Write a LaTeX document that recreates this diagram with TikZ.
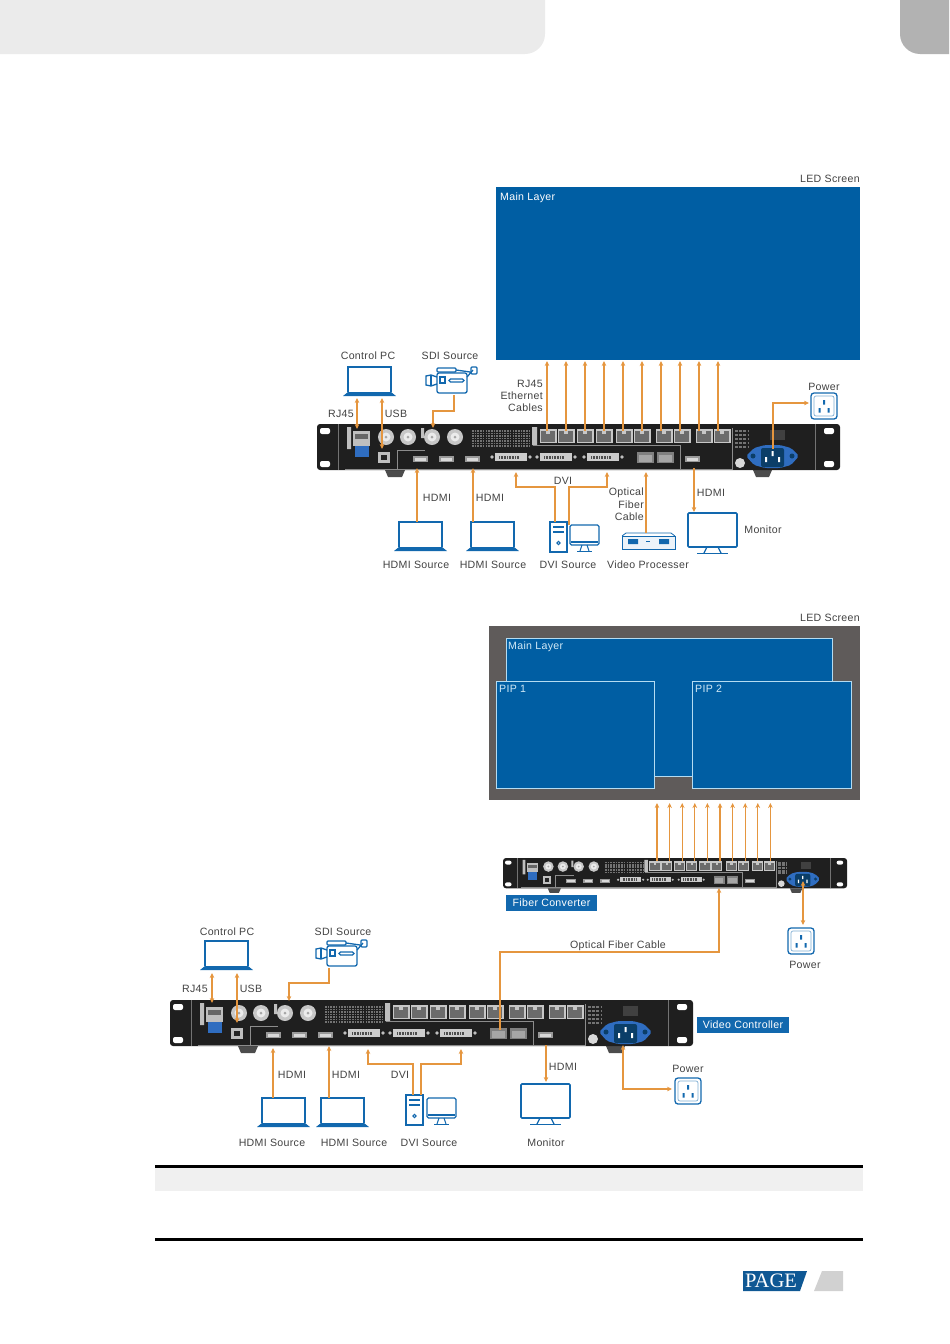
\documentclass[tikz,border=0pt]{standalone}
\usepackage{fontspec}
\usetikzlibrary{arrows.meta}
\setmainfont[LetterSpace=3]{Liberation Sans}
\newfontfamily\logofont{Liberation Serif}

\definecolor{cableCol}{HTML}{E5963F}
\definecolor{iconCol}{HTML}{1268AE}
\definecolor{screenCol}{HTML}{005EA3}
\definecolor{edgeCol}{HTML}{B4DCF2}
\definecolor{wallCol}{HTML}{5F5B5A}
\definecolor{bodyCol}{HTML}{1F1F1F}
\definecolor{txtCol}{HTML}{424242}
\definecolor{socketCol}{HTML}{2F6DC0}

\tikzset{
    cable/.style={draw=cableCol, line width=1.05pt},
    lbl/.style={text=txtCol, inner sep=0pt, font=\fontsize{10.6}{12.4}\selectfont},
    tag/.style={fill=iconCol, text=white, inner sep=0pt, font=\fontsize{10.6}{12.4}\selectfont},
    layer/.style={fill=screenCol, draw=edgeCol, line width=0.8pt},
    icon/.style={draw=iconCol, line width=1.3pt},
    pics/laptop/.style={code={
        \draw[icon] (0,25) -- (0,0) -- (43,0) -- (43,25);
        \fill[iconCol] (-5,29) -- (0,25) -- (43,25) -- (48,29) -- cycle;
    }},
    pics/camera/.style={code={
        \draw[icon, rounded corners=2] (12,6) rectangle (42,26);
        \draw[icon] (12,10) -- (6,8) -- (1,9) -- (1,18) -- (6,19) -- (12,17);
        \draw[icon] (6,8) -- (6,19);
        \draw[icon, rounded corners=1] (12,1) rectangle (31,5);
        \draw[icon] (31,3) -- (45,5) (42,10) -- (48,3);
        \draw[icon, rounded corners=1] (46,0) rectangle (52,7);
        \draw[icon] (15,10) rectangle (20,16);
        \draw[icon, rounded corners=1.5] (24,12) rectangle (39,15);
    }},
    pics/tower/.style={code={
        \draw[icon] (0,0) rectangle (17,30);
        \draw[iconCol, line width=1.8pt] (3,5) -- (14,5) (3,10) -- (14,10);
        \draw[icon, line width=1pt] (8.5,21) circle (1.6);
    }},
    pics/desk/.style={code={
        \draw[icon, rounded corners=1.5] (0,0) rectangle (29,20);
        \draw[iconCol, line width=2pt] (1,17) -- (28,17);
        \draw[iconCol, line width=1pt] (12,20) -- (10,26) (17,20) -- (19,26);
        \draw[icon] (7,26.5) -- (22,26.5);
    }},
    pics/bigscreen/.style={code={
        \draw[icon, line width=1.7pt, rounded corners=1] (0,0) rectangle (49,34);
        \draw[icon] (19,34) -- (16,40) (30,34) -- (33,40);
        \draw[icon] (9,40.5) -- (40,40.5);
    }},
    pics/processor/.style={code={
        \draw[icon, line width=0.8pt, fill=iconCol!8] (0,3) rectangle (53,16);
        \draw[icon, line width=0.8pt] (0,3) -- (4,0) -- (49,0) -- (53,3);
        \fill[iconCol] (6,6) rectangle (16,11) (37,6) rectangle (47,11);
        \draw[icon, line width=0.6pt] (24,8) -- (28,8);
    }},
    pics/outlet/.style={code={
        \draw[icon, rounded corners=3] (0,0) rectangle (26,26);
        \draw[draw=iconCol!55, line width=0.7pt, rounded corners=2] (3,3) rectangle (23,23);
        \fill[iconCol] (12,7) rectangle (14,11.5) (7.5,15) rectangle (9.5,19.5) (16.5,15) rectangle (18.5,19.5);
    }},
    pics/panel/.style={code={
        \fill[black!70] (68,46) -- (71,53) -- (85,53) -- (88,46) -- cycle;
        \fill[black!70] (436,46) -- (439,53) -- (452,53) -- (455,46) -- cycle;
        \fill[bodyCol, rounded corners=3] (0,0) rectangle (523,46);
        \draw[black!55, line width=0.5pt] (21,0) -- (21,46) (498,0) -- (498,46);
        \foreach \y in {7,40} {
            \fill[white, rounded corners=2] (3,\y-3) rectangle (13,\y+3);
            \fill[white, rounded corners=2] (507,\y-3) rectangle (517,\y+3);
        }
        % name strips
        \fill[black!25] (30,3) rectangle (34,25) (104,4) rectangle (107,14) (215,3) rectangle (220,21);
        % ethernet and usb
        \fill[black!25] (36,7) rectangle (53,22);
        \fill[black!60] (38,10) rectangle (51,15);
        \fill[socketCol] (38,22) rectangle (52,33);
        \fill[black!25] (61,28) rectangle (73,39);
        \fill[black!85] (64,31) rectangle (70,36);
        \foreach \x in {69,91,115,138} {
            \fill[black!22] (\x,13) circle (8);
            \fill[black!8] (\x,13) circle (4.5);
            \fill[black!35] (\x,13) circle (1.5);
        }
        % vents
        \foreach \y in {7,9.5,...,24} {
            \draw[black!55, line width=1.3pt, dash pattern=on 1.6pt off 1.1pt] (155,\y) -- (213,\y);
        }
        \foreach \y in {7,11,...,26} {
            \draw[black!55, line width=2pt, dash pattern=on 3pt off 1.2pt] (418,\y) -- (432,\y);
        }
        % thin outlines
        \draw[black!45, line width=0.4pt] (28,45) -- (415,45) -- (415,4);
        \draw[black!45, line width=0.4pt] (80,45) -- (80,26) -- (108,26);
        \draw[black!45, line width=0.4pt] (216,21) -- (363,21) -- (363,45);
        % rj45 pairs
        \foreach \x in {231,249,268,287,307,325,347,365,387,405} {
            \fill[black!22] (\x-8.5,5) rectangle (\x+8.5,19);
            \fill[black!58] (\x-7,7) rectangle (\x+7,18);
            \fill[black!22] (\x-2,5) rectangle (\x+2,10);
        }
        \foreach \x in {96,122,148,368} {
            \fill[black!40] (\x,32) rectangle (\x+15,38);
            \fill[black!15] (\x+2,33.5) rectangle (\x+13,36.5);
        }
        \foreach \x in {178,223,270} {
            \fill[black!20] (\x,29) rectangle (\x+32,37);
            \draw[black!70, line width=3pt, dash pattern=on 0.8pt off 0.8pt] (\x+4,33) -- (\x+24,33);
            \fill[black!25] (\x-3,33) circle (1.8);
            \fill[black!25] (\x+35,33) circle (1.8);
        }
        \foreach \x in {320,340} {
            \fill[black!50] (\x,28) rectangle (\x+17,39);
            \fill[black!35] (\x+2,31) rectangle (\x+15,38);
        }
        % mains socket
        \fill[black!75] (453,6) rectangle (468,16);
        \fill[black!15] (423,39) circle (5);
        \fill[socketCol, rounded corners=2] (429,32) -- (437,24) -- (448,21) -- (463,21) -- (474,24) -- (482,32)
            -- (474,41) -- (463,44) -- (448,44) -- (437,41) -- cycle;
        \fill[iconCol!60!black] (436,32) circle (2.5) (475,32) circle (2.5);
        \fill[iconCol!60!black, rounded corners=2] (444,24) rectangle (467,43);
        \fill[white] (454.5,27) rectangle (456.5,32) (448,33) rectangle (450,38) (461,33) rectangle (463,38);
    }},
}

\begin{document}
\begin{tikzpicture}[>={Stealth[length=5pt, width=4.6pt]}, x=1pt, y=-1pt]
    \useasboundingbox (0,0) rectangle (950,1344);

    % --- Page furniture ---
    \fill[black!8] (0,0) -- (545,0) -- (545,34) arc[start angle=0, end angle=90, radius=20] -- (0,54) -- cycle;
    \fill[black!30] (900,0) -- (949,0) -- (949,54) -- (920,54) arc[start angle=90, end angle=180, radius=20] -- cycle;
    \fill[black!6] (155,1168) rectangle (863,1191);
    \draw[black, line width=2.2pt] (155,1166.5) -- (863,1166.5);
    \draw[black, line width=2.2pt] (155,1239.5) -- (863,1239.5);
    \fill[iconCol!85!black] (743,1271) -- (807,1271) -- (800,1291) -- (743,1291) -- cycle;
    \fill[black!18] (822,1271) -- (843,1271) -- (843,1291) -- (814,1291) -- cycle;
    \node[text=white, inner sep=0pt, font=\logofont\fontsize{20.5}{24}\selectfont] (pageMark) at (771,1281) {PAGE};

    % --- Upper diagram: screen ---
    \fill[screenCol] (496,187) rectangle (860,360);
    \node[lbl, anchor=east] (ledA) at (860,179) {LED Screen};
    \node[text=white, inner sep=0pt, anchor=west, font=\fontsize{10.6}{12.4}\selectfont] (mainA) at (500,198) {Main Layer};

    % --- Upper diagram: equipment ---
    \pic (ctlA) at (317,424) {panel};
    \pic at (348,367) {laptop};
    \pic at (425,367) {camera};
    \pic at (811,393) {outlet};
    \pic at (399,522) {laptop};
    \pic at (471,522) {laptop};
    \pic at (550,522) {tower};
    \pic at (570,525) {desk};
    \pic at (622,533) {processor};
    \pic at (688,513) {bigscreen};

    % --- Upper diagram: coordinates ---
    \foreach \i in {0,...,9} {
        \coordinate (aPort\i) at ({547+19*\i},431);
        \coordinate (aTop\i) at ({547+19*\i},361);
        \draw[cable, ->] (aPort\i) -- (aTop\i);
    }
    \coordinate (aPcL) at (357,398);
    \coordinate (aPcR) at (382,398);
    \coordinate (aRj) at (357,429);
    \coordinate (aUsb) at (382,449);
    \coordinate (aCam) at (454,395);
    \coordinate (aCamBend) at (454,411);
    \coordinate (aSdi) at (433,428);
    \coordinate (aHdmiL) at (417,468);
    \coordinate (aHdmiR) at (473,468);
    \coordinate (aLapL) at (417,522);
    \coordinate (aLapR) at (473,522);
    \coordinate (aDviL) at (516,472);
    \coordinate (aDviR) at (607,472);
    \coordinate (aPcTower) at (555,522);
    \coordinate (aPcDesk) at (569,525);
    \coordinate (aDviBend) at (0,487);
    \coordinate (aFiber) at (646,472);
    \coordinate (aProc) at (646,533);
    \coordinate (aOut) at (694,468);
    \coordinate (aMon) at (694,512);
    \coordinate (aMains) at (773,449);
    \coordinate (aOutlet) at (809,403);

    % --- Upper diagram: cables ---
    \draw[cable, <->] (aPcL) -- (aRj);
    \draw[cable, <->] (aPcR) -- (aUsb);
    \draw[cable, ->] (aCam) -- (aCamBend) -| (aSdi);
    \draw[cable, ->] (aLapL) -- (aHdmiL);
    \draw[cable, ->] (aLapR) -- (aHdmiR);
    \draw[cable, ->] (aPcTower) |- (aPcTower |- aDviBend) -| (aDviL);
    \draw[cable, ->] (aPcDesk) |- (aPcDesk |- aDviBend) -| (aDviR);
    \draw[cable, ->] (aProc) -- (aFiber);
    \draw[cable, ->] (aOut) -- (aMon);
    \draw[cable, ->] (aMains) |- (aOutlet);

    % --- Upper diagram: labels ---
    \node[lbl] (pcA) at (368,356) {Control PC};
    \node[lbl] (sdiA) at (450,356) {SDI Source};
    \node[lbl] (rjA) at (341,414) {RJ45};
    \node[lbl] (usbA) at (396,414) {USB};
    \node[lbl, anchor=east] (rjcA) at (543,384) {RJ45};
    \node[lbl, anchor=east] (ethA) at (543,396) {Ethernet};
    \node[lbl, anchor=east] (cabA) at (543,408) {Cables};
    \node[lbl] (pwrA) at (824,387) {Power};
    \node[lbl] (hdmiA) at (437,498) {HDMI};
    \node[lbl] (hdmiB) at (490,498) {HDMI};
    \node[lbl] (dviA) at (563,481) {DVI};
    \node[lbl, anchor=east] (optA) at (644,493) {Optical};
    \node[lbl, anchor=east] (fibA) at (644,505) {Fiber};
    \node[lbl, anchor=east] (fcbA) at (644,517) {Cable};
    \node[lbl] (hdmiC) at (711,493) {HDMI};
    \node[lbl] (monA) at (763,530) {Monitor};
    \node[lbl] (srcA) at (416,565) {HDMI Source};
    \node[lbl] (srcB) at (493,565) {HDMI Source};
    \node[lbl] (srcC) at (568,565) {DVI Source};
    \node[lbl] (srcD) at (648,565) {Video Processer};

    % --- Lower diagram: screen ---
    \fill[wallCol] (489,626) rectangle (860,800);
    \draw[layer] (506,638) rectangle (832,776);
    \draw[layer] (496,681) rectangle (654,788);
    \draw[layer] (692,681) rectangle (851,788);
    \node[lbl, anchor=east] (ledB) at (860,618) {LED Screen};
    \node[text=edgeCol!60!white, inner sep=0pt, anchor=west, font=\fontsize{10.6}{12.4}\selectfont] (mainB) at (508,647) {Main Layer};
    \node[text=edgeCol!60!white, inner sep=0pt, anchor=west, font=\fontsize{10.6}{12.4}\selectfont] (pipA) at (499,689) {PIP 1};
    \node[text=edgeCol!60!white, inner sep=0pt, anchor=west, font=\fontsize{10.6}{12.4}\selectfont] (pipB) at (695,689) {PIP 2};

    % --- Lower diagram: equipment ---
    \pic[scale=0.658] (conv) at (503,858) {panel};
    \pic (ctlB) at (170,1000) {panel};
    \pic at (205,941) {laptop};
    \pic at (315,940) {camera};
    \pic at (788,928) {outlet};
    \pic at (675,1078) {outlet};
    \pic at (262,1098) {laptop};
    \pic at (321,1098) {laptop};
    \pic at (406,1095) {tower};
    \pic at (427,1098) {desk};
    \pic at (521,1084) {bigscreen};

    % --- Lower diagram: coordinates ---
    \foreach \i in {0,...,9} {
        \coordinate (bPort\i) at ({657+12.6*\i},861);
        \coordinate (bTop\i) at ({657+12.6*\i},803);
        \draw[cable, ->] (bPort\i) -- (bTop\i);
    }
    \coordinate (bMains) at (803,881);
    \coordinate (bOutlet) at (803,925);
    \coordinate (bFibUp) at (719,888);
    \coordinate (bFibRun) at (0,952);
    \coordinate (bFibDown) at (500,1030);
    \coordinate (bPcL) at (212,973);
    \coordinate (bPcR) at (237,973);
    \coordinate (bRj) at (212,1003);
    \coordinate (bUsb) at (237,1023);
    \coordinate (bCam) at (329,968);
    \coordinate (bCamBend) at (329,983);
    \coordinate (bSdi) at (289,1001);
    \coordinate (bLapL) at (273,1098);
    \coordinate (bLapR) at (329,1098);
    \coordinate (bHdmiL) at (273,1048);
    \coordinate (bHdmiR) at (329,1046);
    \coordinate (bDviL) at (368,1049);
    \coordinate (bDviR) at (461,1049);
    \coordinate (bPcTower) at (413,1095);
    \coordinate (bPcDesk) at (421,1095);
    \coordinate (bDviBend) at (0,1064);
    \coordinate (bOut) at (546,1045);
    \coordinate (bMon) at (546,1082);
    \coordinate (bPlug) at (623,1045);
    \coordinate (bPlugOut) at (672,1089);

    % --- Lower diagram: cables ---
    \draw[cable, <->] (bMains) -- (bOutlet);
    \draw[cable, ->] (bFibDown) |- (bFibUp |- bFibRun) -- (bFibUp);
    \draw[cable, <->] (bPcL) -- (bRj);
    \draw[cable, <->] (bPcR) -- (bUsb);
    \draw[cable, ->] (bCam) -- (bCamBend) -| (bSdi);
    \draw[cable, ->] (bLapL) -- (bHdmiL);
    \draw[cable, ->] (bLapR) -- (bHdmiR);
    \draw[cable, ->] (bPcTower) |- (bPcTower |- bDviBend) -| (bDviL);
    \draw[cable, ->] (bPcDesk) |- (bPcDesk |- bDviBend) -| (bDviR);
    \draw[cable, ->] (bOut) -- (bMon);
    \draw[cable, <->] (bPlug) |- (bPlugOut);

    % --- Lower diagram: labels ---
    \node[tag, minimum width=91pt, minimum height=16pt] (convTag) at (551.5,903) {Fiber Converter};
    \node[tag, minimum width=92pt, minimum height=16pt] (ctlTag) at (743,1025) {Video Controller};
    \node[lbl] (optB) at (618,946) {Optical Fiber Cable};
    \node[lbl] (pwrB) at (805,965) {Power};
    \node[lbl] (pcB) at (227,932) {Control PC};
    \node[lbl] (sdiB) at (343,932) {SDI Source};
    \node[lbl] (rjB) at (195,989) {RJ45};
    \node[lbl] (usbB) at (251,989) {USB};
    \node[lbl] (hdmiD) at (292,1075) {HDMI};
    \node[lbl] (hdmiE) at (346,1075) {HDMI};
    \node[lbl] (dviB) at (400,1075) {DVI};
    \node[lbl] (hdmiF) at (563,1067) {HDMI};
    \node[lbl] (pwrC) at (688,1069) {Power};
    \node[lbl] (monB) at (546,1143) {Monitor};
    \node[lbl] (srcE) at (272,1143) {HDMI Source};
    \node[lbl] (srcF) at (354,1143) {HDMI Source};
    \node[lbl] (srcG) at (429,1143) {DVI Source};

\end{tikzpicture}
\end{document}
